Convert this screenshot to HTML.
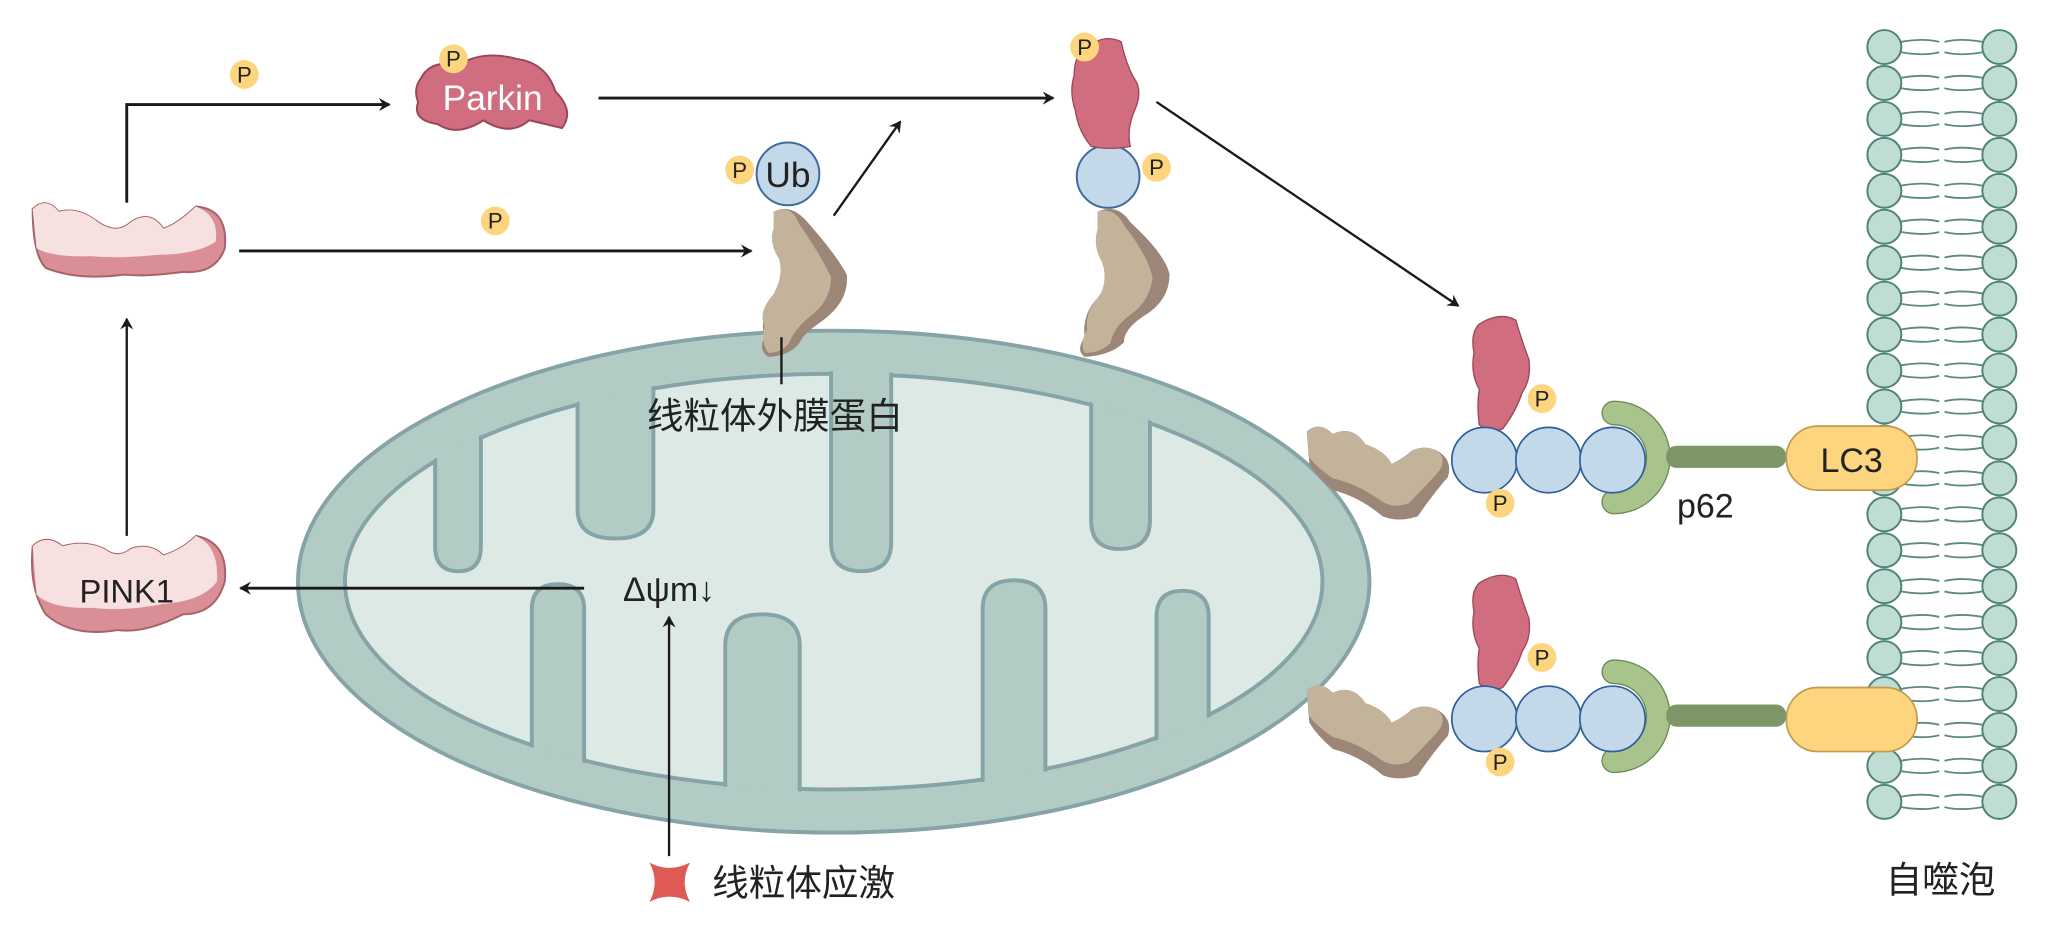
<!DOCTYPE html>
<html><head><meta charset="utf-8"><style>
html,body{margin:0;padding:0;background:#fff;}
svg{display:block;}
text{font-family:"Liberation Sans","Noto Sans CJK SC",sans-serif;}
</style></head><body>
<svg width="2049" height="945" viewBox="0 0 1568 723" preserveAspectRatio="none" xmlns="http://www.w3.org/2000/svg">
<defs>
<marker id="ah" markerWidth="10" markerHeight="10" refX="8" refY="5" orient="auto" markerUnits="userSpaceOnUse">
<path d="M0,0 L9,5 L0,10 L3,5 Z" fill="#1a1a1a"/></marker>
<clipPath id="inner"><ellipse cx="638" cy="445" rx="376" ry="161"/></clipPath>
<g id="P"><circle r="11" fill="#fcd57e"/><text y="6" font-size="17" text-anchor="middle" fill="#222">P</text></g>
<g id="row">
<path d="M1455,-4 Q1472,-7 1484,-4 M1455,4 Q1472,7 1484,4 M1488,-4 Q1500,-7 1517,-4 M1488,4 Q1500,7 1517,4" stroke="#5b8a80" stroke-width="1.4" fill="none"/>
<circle cx="1442" cy="0" r="13" fill="#c0ddd3" stroke="#4f8279" stroke-width="1.5"/>
<circle cx="1530" cy="0" r="13" fill="#c0ddd3" stroke="#4f8279" stroke-width="1.5"/>
</g>
</defs>

<!-- mitochondrion -->
<ellipse cx="638" cy="445" rx="410" ry="192" fill="#b2cbc5" stroke="#86a3a7" stroke-width="3"/>
<ellipse cx="638" cy="445" rx="374" ry="159" fill="#dce9e5" stroke="#86a3a7" stroke-width="3"/>
<g clip-path="url(#inner)" fill="#b2cbc5" stroke="#86a3a7" stroke-width="3">
<path d="M333,270 L333,418 Q333,437 351,437 Q368,437 368,418 L368,270 Z"/>
<path d="M442,270 L442,390 Q442,412 471,412 Q500,412 500,390 L500,270 Z"/>
<path d="M636,270 L636,415 Q636,437 659,437 Q682,437 682,415 L682,270 Z"/>
<path d="M835,270 L835,398 Q835,420 857,420 Q880,420 880,398 L880,270 Z"/>
<path d="M407,620 L407,466 Q407,447 427,447 Q447,447 447,466 L447,620 Z"/>
<path d="M555,620 L555,494 Q555,470 583,470 Q612,470 612,494 L612,620 Z"/>
<path d="M752,620 L752,466 Q752,444 776,444 Q800,444 800,466 L800,620 Z"/>
<path d="M885,620 L885,472 Q885,452 905,452 Q925,452 925,472 L925,620 Z"/>
</g>

<!-- pink PINK1 shapes -->
<g>
<path d="M25,160 Q35,150 45,162 Q60,158 75,170 Q90,180 100,170 Q115,160 125,175 Q135,172 150,158 Q175,160 172,190 Q165,210 140,208 Q110,212 95,210 Q60,215 35,205 Q25,195 25,160 Z" fill="#d98f95" stroke="#a8636a" stroke-width="1.5"/>
<path d="M25,160 Q35,150 45,162 Q60,158 75,170 Q90,180 100,170 Q115,160 125,175 Q135,172 150,158 Q168,165 165,185 Q150,195 120,195 Q90,198 70,196 Q40,197 28,190 Z" fill="#f6e1e0"/>
</g>
<g>
<path d="M25,418 Q35,408 48,418 Q65,413 80,420 Q90,428 100,420 Q115,415 125,425 Q140,420 150,410 Q175,415 172,445 Q165,470 140,470 Q110,485 90,482 Q55,488 35,470 Q22,450 25,418 Z" fill="#d98f95" stroke="#a8636a" stroke-width="1.5"/>
<path d="M25,418 Q35,408 48,418 Q65,413 80,420 Q90,428 100,420 Q115,415 125,425 Q140,420 150,410 Q168,418 166,445 Q155,460 125,462 Q95,468 70,465 Q40,466 28,455 Z" fill="#f6e1e0"/>
<text x="97" y="461" font-size="25" text-anchor="middle" fill="#222">PINK1</text>
</g>

<!-- Parkin -->
<path d="M322,60 Q330,45 350,50 Q370,38 395,45 Q418,48 425,70 Q440,85 430,98 Q418,95 405,92 Q390,105 370,92 Q350,105 335,95 Q315,92 320,78 Q316,68 322,60 Z" fill="#d06e80" stroke="#9b4658" stroke-width="1.5"/>
<text x="377" y="84" font-size="27" text-anchor="middle" fill="#fff">Parkin</text>
<use href="#P" x="347" y="45"/>
<use href="#P" x="187" y="57"/>
<use href="#P" x="379" y="169"/>

<!-- OMM protein 1 with Ub -->
<path d="M592,162 Q605,155 618,170 Q640,195 648,210 Q650,230 630,245 Q615,255 612,262 Q605,272 588,273 Q580,268 585,258 Q580,240 595,225 Q605,210 598,195 Q590,185 595,175 Z" fill="#9c8677"/>
<path d="M592,162 Q605,155 612,172 Q628,195 636,212 Q636,230 620,242 Q608,252 604,262 Q598,270 588,270 Q582,262 585,250 Q580,238 592,225 Q600,210 596,198 Q588,185 592,175 Z" fill="#c3b39a"/>
<circle cx="603" cy="133" r="24" fill="#c3d8e9" stroke="#3e6a9e" stroke-width="1.5"/>
<text x="603" y="143" font-size="27" text-anchor="middle" fill="#222">Ub</text>
<use href="#P" x="566" y="130"/>

<!-- OMM protein 2 with Parkin -->
<path d="M840,162 Q855,155 865,170 Q892,195 895,210 Q895,230 875,242 Q860,252 860,262 Q850,272 830,273 Q823,268 830,258 Q828,240 840,228 Q850,215 845,200 Q838,188 840,175 Z" fill="#9c8677"/>
<path d="M840,162 Q853,158 860,172 Q878,195 882,212 Q880,230 866,240 Q852,250 850,262 Q843,270 830,270 Q826,262 832,252 Q830,238 842,226 Q848,212 843,200 Q836,188 840,175 Z" fill="#c3b39a"/>
<circle cx="848" cy="135" r="24" fill="#c3d8e9" stroke="#3e6a9e" stroke-width="1.5"/>
<path d="M828,38 Q845,25 858,32 Q862,50 868,60 Q875,70 868,85 Q862,100 865,112 Q850,115 835,112 Q825,100 823,85 Q818,70 822,58 Q822,45 828,38 Z" fill="#d06e80" stroke="#9b4658" stroke-width="1"/>
<use href="#P" x="830" y="36"/>
<use href="#P" x="885" y="128"/>

<!-- arrows -->
<g stroke="#1a1a1a" stroke-width="2.2" fill="none">
<path d="M97,155 L97,80 L298,80" marker-end="url(#ah)"/>
<path d="M183,192 L575,192" marker-end="url(#ah)"/>
<path d="M458,75 L806,75" marker-end="url(#ah)"/>
<path d="M638,165 L689,93" stroke-width="1.8" marker-end="url(#ah)"/>
<path d="M885,78 L1116,234" stroke-width="1.8" marker-end="url(#ah)"/>
<path d="M97,410 L97,244" stroke-width="1.8" marker-end="url(#ah)"/>
<path d="M447,450 L184,450" marker-end="url(#ah)"/>
<path d="M512,655 L512,472" stroke-width="1.8" marker-end="url(#ah)"/>
<path d="M598,258 L598,294" stroke-width="1.8"/>
</g>

<text x="593" y="328" font-size="28" text-anchor="middle" fill="#222">线粒体外膜蛋白</text>
<text x="512" y="460" font-size="26" text-anchor="middle" fill="#222">Δψm↓</text>
<path d="M497,660 Q512,668 528,660 Q520,675 528,690 Q512,682 497,690 Q505,675 497,660 Z" fill="#e05a55"/>
<text x="545" y="685" font-size="28" fill="#222">线粒体应激</text>

<!-- membrane -->
<use href="#row" y="36"/><use href="#row" y="63.5"/><use href="#row" y="91"/><use href="#row" y="118.5"/>
<use href="#row" y="146"/><use href="#row" y="173.5"/><use href="#row" y="201"/><use href="#row" y="228.5"/>
<use href="#row" y="256"/><use href="#row" y="283.5"/><use href="#row" y="311"/><use href="#row" y="338.5"/>
<use href="#row" y="366"/><use href="#row" y="393.5"/><use href="#row" y="421"/><use href="#row" y="448.5"/>
<use href="#row" y="476"/><use href="#row" y="503.5"/><use href="#row" y="531"/><use href="#row" y="558.5"/>
<use href="#row" y="586"/><use href="#row" y="613.5"/>

<!-- complexes -->
<g id="cx1">
<path d="M1000,330 Q1010,322 1020,332 Q1035,325 1045,340 Q1060,345 1065,355 Q1075,350 1080,345 Q1090,340 1100,345 Q1112,352 1108,365 Q1095,380 1085,395 Q1070,400 1058,395 Q1040,380 1020,375 Q1008,365 1002,355 Z" fill="#9c8677"/>
<path d="M1000,330 Q1010,322 1020,332 Q1035,325 1045,340 Q1060,345 1065,355 Q1075,350 1080,345 Q1090,340 1100,345 Q1108,352 1100,362 Q1088,375 1078,385 Q1065,390 1055,382 Q1038,370 1020,366 Q1008,358 1002,350 Z" fill="#c3b39a"/>
<path d="M1132,248 Q1148,238 1160,245 Q1165,262 1170,275 Q1172,290 1165,300 Q1160,315 1150,328 Q1140,332 1132,325 Q1130,310 1132,298 Q1125,285 1128,270 Q1125,255 1132,248 Z" fill="#d06e80" stroke="#9b4658" stroke-width="1"/>
<path d="M1235,307 A43,43 0 0 1 1235,393 A9,9 0 0 1 1235,375 A25,25 0 0 0 1235,325 A9,9 0 0 1 1235,307 Z" fill="#a9c38c" stroke="#6b8a55" stroke-width="1"/>
<rect x="1275" y="341" width="92" height="17" rx="8" fill="#7e9667"/>
<g fill="#c3d8e9" stroke="#2f5f9a" stroke-width="1.3">
<circle cx="1136" cy="352" r="25"/><circle cx="1185" cy="352" r="25"/><circle cx="1234" cy="352" r="25"/></g>
<use href="#P" x="1180" y="305"/>
<use href="#P" x="1148" y="385"/>
</g>
<use href="#cx1" y="198"/>
<rect x="1367" y="326" width="100" height="49" rx="24" fill="#fcd57e" stroke="#c49a50" stroke-width="1.3"/>
<text x="1417" y="361" font-size="26" text-anchor="middle" fill="#222">LC3</text>
<rect x="1367" y="526" width="100" height="49" rx="24" fill="#fcd57e" stroke="#c49a50" stroke-width="1.3"/>
<text x="1305" y="396" font-size="26" text-anchor="middle" fill="#222">p62</text>
<text x="1485" y="683" font-size="28" text-anchor="middle" fill="#222">自噬泡</text>
</svg>
</body></html>
